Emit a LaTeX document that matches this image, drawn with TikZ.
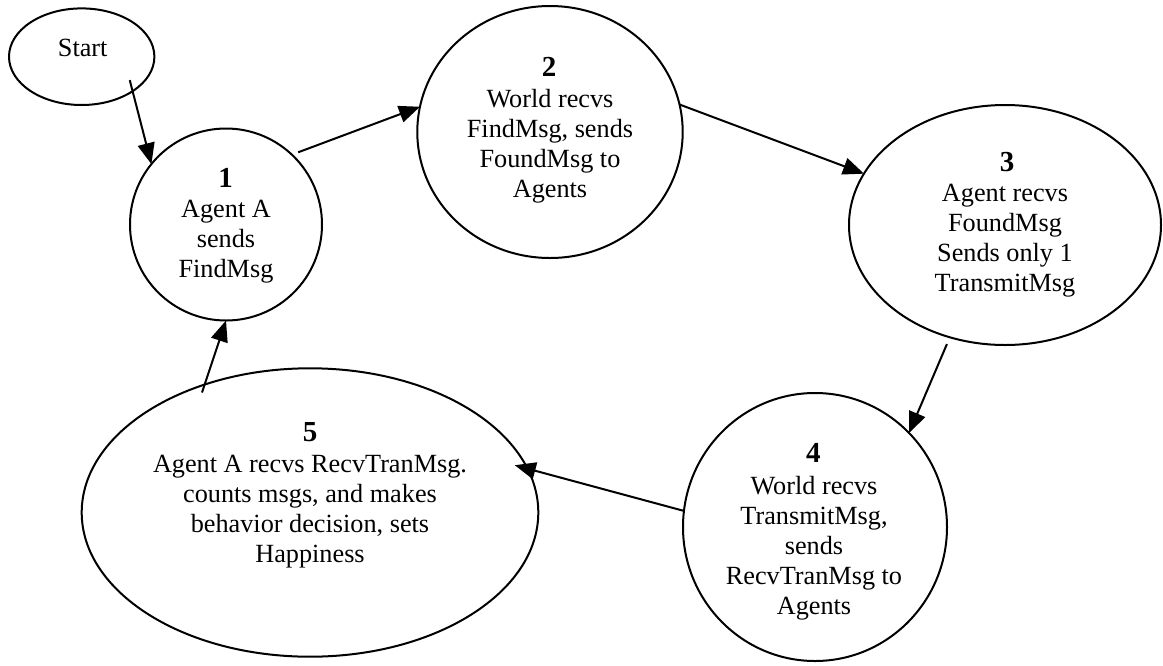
\documentclass[tikz,border=0pt]{standalone}
\usepackage{fontspec}
\setmainfont{Liberation Serif}
\usetikzlibrary{arrows.meta,shapes.geometric,calc}
\begin{document}
\begin{tikzpicture}[x=1pt,y=-1pt,
  stateshape/.style={draw, ellipse, line width=2pt, inner sep=0pt, outer sep=0pt},
  txt/.style={font=\fontsize{26.25}{30}\selectfont, align=center, inner sep=0pt},
  num/.style={font=\fontsize{29}{32}\selectfont\bfseries, inner sep=0pt},
  arr/.style={line width=2pt, -{Triangle[length=21pt,width=17pt]}}]
\useasboundingbox (0,0) rectangle (1163,665);
\clip (0,0) rectangle (1163,665);
% shapes
\node[stateshape, minimum width=145.4pt, minimum height=96.6pt] (start) at (81.7,56.7) {};
\node[stateshape, minimum width=192pt, minimum height=192pt] (n1) at (226,224.5) {};
\node[stateshape, minimum width=265.4pt, minimum height=252pt] (n2) at (550,132) {};
\node[stateshape, minimum width=312pt, minimum height=240pt] (n3) at (1005,225) {};
\node[stateshape, minimum width=264pt, minimum height=268pt] (n4) at (815,527) {};
\node[stateshape, minimum width=456.6pt, minimum height=288.4pt] (n5) at (310,512.5) {};
% texts
\node[txt] (tst) at (82.7,48.3) {Start};
\node[num] (h1) at (225.5,177.5) {1};
\node[txt] (b1) at (226,241.7) {Agent A\\sends\\FindMsg};
\node[num] (h2) at (549,67) {2};
\node[txt] (b2) at (550,146) {World recvs\\FindMsg, sends\\FoundMsg to\\Agents};
\node[num] (h3) at (1007,161.7) {3};
\node[txt] (b3) at (1005,240.8) {Agent recvs\\FoundMsg\\Sends only 1\\TransmitMsg};
\node[num] (h4) at (813.3,453.3) {4};
\node[txt] (b4) at (814,548.3) {World recvs\\TransmitMsg,\\sends\\RecvTranMsg to\\Agents};
\node[num] (h5) at (310,431.7) {5};
\node[txt] (b5) at (310,511.8) {Agent A recvs RecvTranMsg.\\counts msgs, and makes\\behavior decision, sets\\Happiness};
% connectors
\draw[arr] ($(start.center)!0.82!(start.-26)$) -- (n1.141);
\draw[arr] ($(n1.center)!1.064!(n1.45)$) -- (n2.169);
\draw[arr] (n2.12) -- (n3.160);
\draw[arr] ($(n3.center)!1.06!(n3.-116)$) -- (n4.45);
\draw[arr] (n4.173.5) -- ($(n5.center)!0.955!(n5.13)$);
\draw[arr] ($(n5.center)!0.957!(n5.132)$) -- (n1.-90);
\end{tikzpicture}
\end{document}
